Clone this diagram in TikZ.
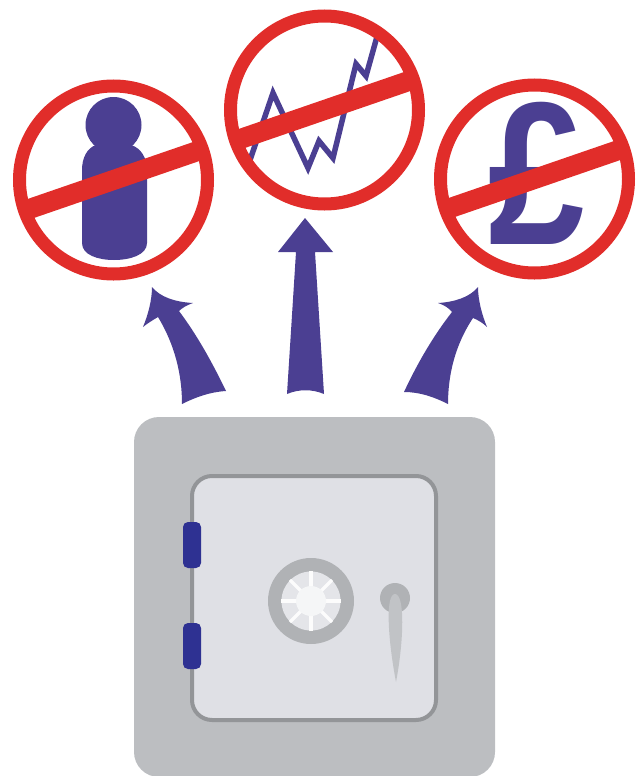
\documentclass[tikz,border=0pt]{standalone}
\usepackage{fontspec}
\usepackage{tikz}
\usetikzlibrary{positioning,calc}
\newfontfamily\poundfont{Liberation Sans}
\definecolor{signclr}{RGB}{225,45,42}
\definecolor{arrowclr}{RGB}{75,63,146}
\definecolor{safeclr}{RGB}{188,190,193}
\definecolor{doorclr}{RGB}{223,224,229}
\definecolor{edgeclr}{RGB}{147,149,152}
\definecolor{hingeclr}{RGB}{46,49,146}
\definecolor{dialclr}{RGB}{176,178,181}
\tikzset{
  ring/.style={circle,draw=signclr,line width=2.6mm,minimum size=37.6mm,
               inner sep=0pt,outer sep=0pt},
  barline/.style={draw=signclr,line width=4mm},
  upshape/.style={fill=arrowclr},
  graph line/.style={draw=arrowclr,line width=1.1mm,line join=miter},
  hinge/.style={fill=hingeclr,rounded corners=1mm},
}
\begin{document}
\begin{tikzpicture}[x=0.2mm,y=-0.2mm]
\useasboundingbox (0,0) rectangle (643,776);

\fill[fill=safeclr,rounded corners=5mm] (134,417) rectangle (495,777);
\draw[fill=doorclr,draw=edgeclr,line width=0.8mm,rounded corners=4mm] (192,476) rectangle (436,720);
\fill[hinge] (183,522) rectangle (201,568);
\fill[hinge] (183,623) rectangle (201,669);

\node[circle,fill=dialclr,minimum size=17.2mm,inner sep=0pt] (dial) at (311,601) {};
\node[circle,fill=doorclr!85!white,minimum size=11.8mm,inner sep=0pt] (face) at (dial) {};
\foreach \ang in {0,45,...,315}
  \draw[white!90!doorclr,line width=0.7mm] (face.center) -- (face.\ang);
\node[circle,fill=white!70!doorclr,minimum size=6mm,inner sep=0pt] (hub) at (dial) {};

\node[circle,fill=dialclr,minimum size=6mm,inner sep=0pt] (knob) at (395,598) {};
\fill[fill=safeclr!85!doorclr] (395,594) .. controls (405,594) and (404,640) .. (396,682)
  .. controls (388,640) and (385,594) .. (395,594) -- cycle;

\fill[upshape] (152,287) .. controls (160,297) and (175,302) .. (193,303)
  .. controls (187,305) and (182,308) .. (179,311)
  .. controls (197,335) and (212,362) .. (226,391)
  .. controls (210,392) and (196,397) .. (182,404)
  .. controls (182,375) and (175,345) .. (158,317)
  .. controls (153,320) and (148,323) .. (143,327)
  .. controls (148,315) and (152,300) .. (152,287) -- cycle;
\fill[upshape] (305,218) -- (333,252) -- (315,252) -- (324,394)
  .. controls (312,389) and (299,389) .. (287,394) -- (296,252) -- (278,252) -- cycle;
\fill[upshape] (478,287) .. controls (470,297) and (455,302) .. (438,303)
  .. controls (444,305) and (449,308) .. (452,312)
  .. controls (434,335) and (418,362) .. (404,392)
  .. controls (420,392) and (434,397) .. (448,404)
  .. controls (448,375) and (455,345) .. (473,318)
  .. controls (478,320) and (483,323) .. (487,327)
  .. controls (482,315) and (478,300) .. (478,287) -- cycle;

\fill[fill=arrowclr] (113.5,125) circle (28);
\fill[fill=arrowclr] (96,145) -- (131,145) .. controls (141,148) and (147,158) .. (147,170)
  -- (147,243) .. controls (147,255) and (130,260) .. (114,260)
  .. controls (98,260) and (82,255) .. (82,243) -- (82,170)
  .. controls (82,158) and (87,148) .. (96,145) -- cycle;
\draw[graph line] (250,160) -- (273,93) -- (308,168) -- (319,141) -- (333,158)
  -- (356,64) -- (366,76) -- (378,33);
\node[inner sep=0pt,anchor=base,text=arrowclr,xscale=0.85,transform shape,
      font=\poundfont\bfseries\fontsize{116}{116}\selectfont]
  (pound) at (537,244) {£};

\node[ring] (signperson) at (113.5,180) {};
\node[ring] (signchart) at (324.5,110) {};
\node[ring] (signpound) at (534.5,179) {};
\foreach \sign in {signperson,signchart,signpound}
  \draw[barline] (\sign.199.5) -- (\sign.19.5);
\end{tikzpicture}
\end{document}
